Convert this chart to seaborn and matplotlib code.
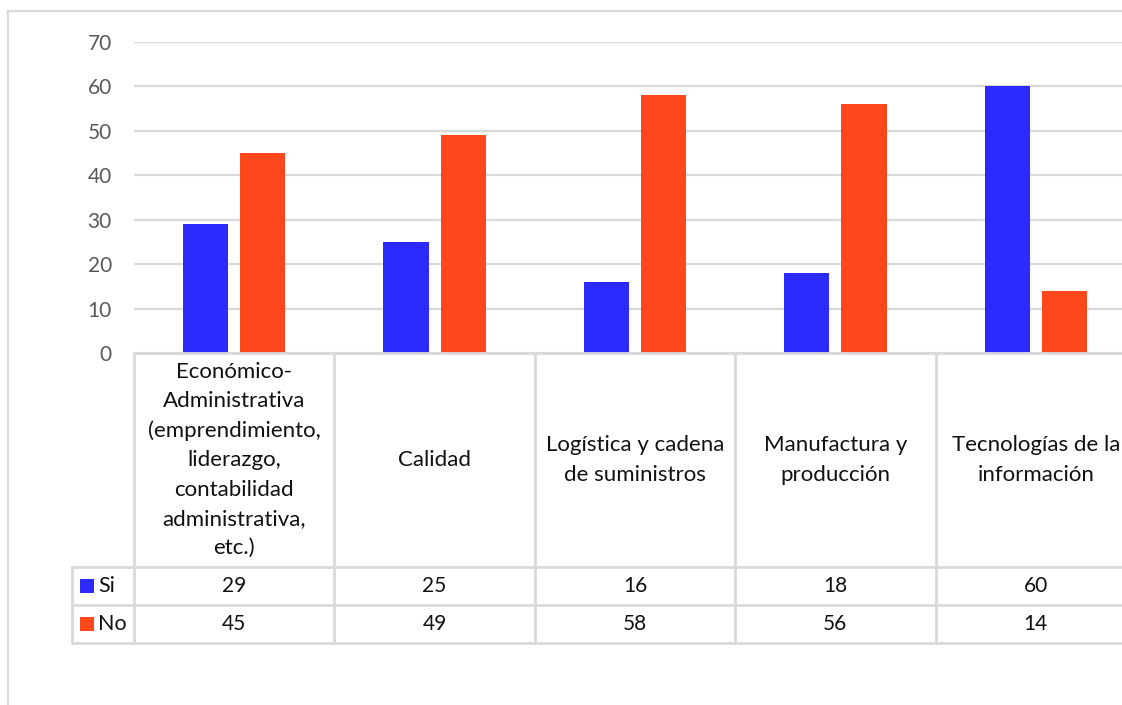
import matplotlib
matplotlib.use("Agg")
import matplotlib.pyplot as plt
import matplotlib.transforms as mtransforms
from matplotlib.lines import Line2D
from matplotlib.patches import Rectangle
import seaborn as sns
import pandas as pd

categories = [
    "Económico-\nAdministrativa\n(emprendimiento,\nliderazgo,\ncontabilidad\nadministrativa,\netc.)",
    "Calidad",
    "Logística y cadena\nde suministros",
    "Manufactura y\nproducción",
    "Tecnologías de la\ninformación",
]
series_names = ["Si", "No"]
si_values = [29, 25, 16, 18, 60]
no_values = [45, 49, 58, 56, 14]
y_ticks = [0, 10, 20, 30, 40, 50, 60, 70]

colors = {"Si": "#2B2BFF", "No": "#FF471C"}
grid_col = "#D9D9D9"

df = pd.DataFrame({
    "cat": categories * 2,
    "serie": ["Si"] * len(categories) + ["No"] * len(categories),
    "val": si_values + no_values,
})

sns.set_theme(style="white")
plt.rcParams["font.family"] = ["Lato", "DejaVu Sans"]

W, H = 1122, 705
fig = plt.figure(figsize=(W / 100, H / 100), dpi=100)

def fx(x):
    return x / W

def fy(y):
    return 1 - y / H

ax_left, ax_right, ax_top, ax_bottom = 134, 1136, 42, 353
ax = fig.add_axes([fx(ax_left), fy(ax_bottom), fx(ax_right - ax_left), (ax_bottom - ax_top) / H])

sns.barplot(data=df, x="cat", y="val", hue="serie", order=categories,
            hue_order=series_names, palette=colors, width=0.57, gap=0.21,
            ax=ax, legend=False, linewidth=0, saturation=1)

ax.set_xlim(-0.5, len(categories) - 0.5)
ax.set_ylim(0, 70)
ax.set_yticks(y_ticks)
ax.set_xticks([])
ax.set_xlabel("")
ax.set_ylabel("")
ax.yaxis.grid(True, color=grid_col, linewidth=1.6)
ax.set_axisbelow(True)
for s in ax.spines.values():
    s.set_visible(False)
ax.tick_params(axis="y", length=0, pad=16, labelsize=15, labelcolor="#595959")
ax.tick_params(axis="x", length=0)

# chart frame
fig.add_artist(Line2D([fx(8), fx(8)], [fy(11), 0], transform=fig.transFigure, color=grid_col, lw=1.6))
fig.add_artist(Line2D([fx(8), 1], [fy(11), fy(11)], transform=fig.transFigure, color=grid_col, lw=1.6))

# data table
blend = mtransforms.blended_transform_factory(ax.transData, fig.transFigure)
tab_top, tab_hdr, tab_r1, tab_r2 = 353, 567, 605, 643
leg_left = 72
line_kw = dict(color=grid_col, lw=2)

fig.add_artist(Line2D([fx(ax_left), 1], [fy(tab_top)] * 2, transform=fig.transFigure, **line_kw))
for yy in (tab_hdr, tab_r1, tab_r2):
    fig.add_artist(Line2D([fx(leg_left), 1], [fy(yy)] * 2, transform=fig.transFigure, **line_kw))
fig.add_artist(Line2D([fx(leg_left)] * 2, [fy(tab_hdr), fy(tab_r2)], transform=fig.transFigure, **line_kw))
for i in range(len(categories) + 1):
    fig.add_artist(Line2D([i - 0.5] * 2, [fy(tab_top), fy(tab_r2)], transform=blend, **line_kw))

hdr_kw = dict(fontsize=16, color="#111111", ha="center", va="center")
num_kw = dict(fontsize=15, color="#111111", ha="center", va="center")
for i, c in enumerate(categories):
    fig.text(i, fy((tab_top + tab_hdr) / 2), c, transform=blend, linespacing=1.57, **hdr_kw)
    fig.text(i, fy((tab_hdr + tab_r1) / 2), str(si_values[i]), transform=blend, **num_kw)
    fig.text(i, fy((tab_r1 + tab_r2) / 2), str(no_values[i]), transform=blend, **num_kw)

for name, (ya, yb) in zip(series_names, [(tab_hdr, tab_r1), (tab_r1, tab_r2)]):
    yc = (ya + yb) / 2
    fig.add_artist(Rectangle((fx(80), fy(yc + 7)), fx(14), 14 / H, transform=fig.transFigure,
                             facecolor=colors[name], edgecolor="none"))
    fig.text(fx(98), fy(yc), name, fontsize=15.5, color="#111111", ha="left", va="center")

fig.savefig("out.png", dpi=100, facecolor="white")
